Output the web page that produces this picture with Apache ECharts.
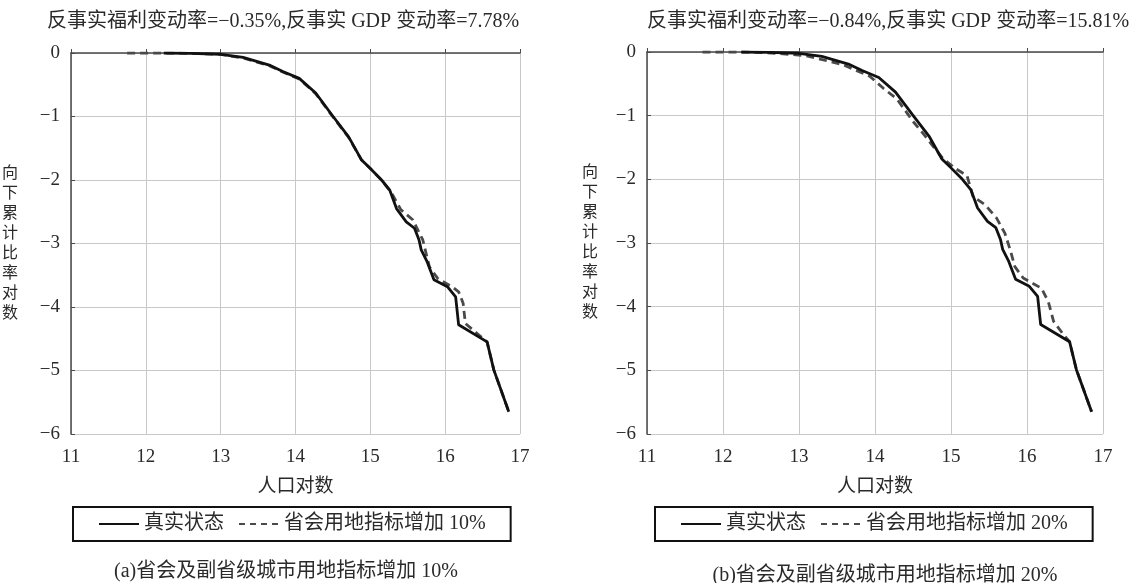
<!DOCTYPE html>
<html>
<head>
<meta charset="utf-8">
<script src="https://cdn.jsdelivr.net/npm/echarts@6/dist/echarts.min.js"></script>
<style>
html,body{margin:0;padding:0;background:#fff;}
#chart{width:1141px;height:583px;}
</style>
</head>
<body>
<div id="chart"></div>
<script>
// ---- data ----
const titleA = '反事实福利变动率=−0.35%,反事实 GDP 变动率=7.78%';
const titleB = '反事实福利变动率=−0.84%,反事实 GDP 变动率=15.81%';
const captionA = '(a)省会及副省级城市用地指标增加 10%';
const captionB = '(b)省会及副省级城市用地指标增加 20%';
const xName = '人口对数';
const yName = '向下累计比率对数';
const nameReal = '真实状态';
const nameA = '省会用地指标增加 10%';
const nameB = '省会用地指标增加 20%';
const xTicks = [11, 12, 13, 14, 15, 16, 17];
const yTicks = [0, -1, -2, -3, -4, -5, -6];

// true state (same in both panels)
const realX = [12.24, 12.6, 13.0, 13.3, 13.65, 13.83, 14.05, 14.27, 14.49, 14.71, 14.88, 15.0, 15.15, 15.26, 15.35, 15.48, 15.59, 15.65, 15.68, 15.76, 15.85, 16.03, 16.14, 16.18, 16.56, 16.65, 16.85];
const realY = [0, -0.005, -0.02, -0.07, -0.19, -0.29, -0.40, -0.63, -0.98, -1.32, -1.68, -1.82, -2.0, -2.16, -2.45, -2.66, -2.76, -2.94, -3.10, -3.29, -3.57, -3.68, -3.84, -4.28, -4.55, -4.99, -5.65];

// counterfactual +10%
const cfAX = [11.75, 12.24, 12.6, 13.0, 13.3, 13.65, 13.83, 14.05, 14.27, 14.49, 14.71, 14.88, 15.0, 15.15, 15.28, 15.41, 15.57, 15.70, 15.79, 15.90, 16.09, 16.18, 16.24, 16.27, 16.42, 16.56, 16.65, 16.85];
const cfAY = [0, 0, -0.005, -0.02, -0.08, -0.20, -0.30, -0.41, -0.64, -0.99, -1.33, -1.68, -1.82, -2.0, -2.2, -2.47, -2.63, -2.94, -3.37, -3.55, -3.68, -3.76, -3.94, -4.26, -4.41, -4.55, -4.99, -5.65];

// counterfactual +20%
const cfBX = [11.73, 12.29, 12.7, 13.10, 13.58, 13.93, 14.11, 14.29, 14.5, 14.64, 14.77, 14.90, 15.07, 15.21, 15.29, 15.45, 15.60, 15.71, 15.78, 15.84, 15.95, 16.19, 16.28, 16.35, 16.48, 16.56, 16.65, 16.85];
const cfBY = [0, 0, -0.02, -0.06, -0.20, -0.38, -0.57, -0.74, -1.09, -1.29, -1.49, -1.68, -1.84, -1.94, -2.27, -2.40, -2.61, -2.85, -3.11, -3.37, -3.55, -3.71, -3.92, -4.23, -4.44, -4.55, -4.99, -5.65];

// ---- chart ----
const zip = (xs, ys) => xs.map((x, i) => [x, ys[i]]);
const serif = '"Liberation Serif", "Noto Sans CJK SC", serif';
const txtColor = '#2a2a2a';
const fmtMinus = v => String(v).replace('-', '−');
const vName = yName.split('').join('\n');

function xAxis(gi, gap) {
  return {
    type: 'value', gridIndex: gi, min: xTicks[0], max: xTicks[xTicks.length - 1], interval: 1,
    name: xName, nameLocation: 'middle', nameGap: gap,
    nameTextStyle: {fontFamily: serif, fontSize: 19, color: txtColor},
    axisLine: {show: true, lineStyle: {color: '#4a4a4a', width: 1.5}},
    axisTick: {show: true, inside: true, length: 4, lineStyle: {color: '#4a4a4a'}},
    axisLabel: {fontFamily: serif, fontSize: 19, color: txtColor, margin: 14},
    splitLine: {show: true, lineStyle: {color: '#c8c8c8', width: 1}}
  };
}
function yAxis(gi, gap) {
  return {
    type: 'value', gridIndex: gi, min: yTicks[yTicks.length - 1], max: yTicks[0], interval: 1,
    name: vName, nameLocation: 'middle', nameGap: gap, nameRotate: 0,
    nameTextStyle: {fontFamily: serif, fontSize: 16, color: txtColor, lineHeight: 20},
    axisLine: {show: true, onZero: false, lineStyle: {color: '#4a4a4a', width: 1.5}},
    axisTick: {show: true, inside: true, length: 4, lineStyle: {color: '#4a4a4a'}},
    axisLabel: {fontFamily: serif, fontSize: 19, color: txtColor, margin: 11, formatter: fmtMinus},
    splitLine: {show: true, lineStyle: {color: '#c8c8c8', width: 1}}
  };
}
function line(name, xi, data, dashed) {
  return {
    type: 'line', name: name, xAxisIndex: xi, yAxisIndex: xi, data: data,
    symbol: 'none', silent: true, animation: false,
    lineStyle: dashed ? {color: '#4a4a4a', width: 2.8, type: [8, 5]} : {color: '#111', width: 2.8},
    itemStyle: {color: dashed ? '#4a4a4a' : '#111'}
  };
}
const legendBase = {
  orient: 'horizontal', itemWidth: 40, itemHeight: 14, itemGap: 14,
  borderColor: '#111', borderWidth: 2, borderRadius: 0,
  itemStyle: {opacity: 0},
  lineStyle: {width: 2},
  textStyle: {fontFamily: serif, fontSize: 20, color: txtColor},
  selectedMode: false
};
const textStyle = {fontFamily: serif, fontSize: 20, fontWeight: 'normal', color: txtColor};
const dashItem = name => ({name: name, lineStyle: {type: [6, 5], width: 2}});

const option = {
  backgroundColor: '#fff',
  animation: false,
  title: [
    {text: titleA, left: 278, top: 7, textAlign: 'center', textStyle: textStyle},
    {text: titleB, left: 883, top: 7, textAlign: 'center', textStyle: textStyle},
    {text: captionA, left: 281, top: 557, textAlign: 'center', textStyle: textStyle},
    {text: captionB, left: 880, top: 561, textAlign: 'center', textStyle: textStyle}
  ],
  grid: [
    {left: 66, top: 53, width: 454, height: 381},
    {left: 647, top: 52, width: 456, height: 382}
  ],
  xAxis: [xAxis(0, 44), xAxis(1, 44)],
  yAxis: [yAxis(0, 53), yAxis(1, 49)],
  legend: [
    Object.assign({}, legendBase, {data: [nameReal, dashItem(nameA)], left: 73, top: 507, padding: [7, 25]}),
    Object.assign({}, legendBase, {data: [nameReal, dashItem(nameB)], left: 655, top: 507, padding: [7, 25]})
  ],
  series: [
    line(nameA, 0, zip(cfAX, cfAY), true),
    line(nameReal, 0, zip(realX, realY), false),
    line(nameB, 1, zip(cfBX, cfBY), true),
    line(nameReal, 1, zip(realX, realY), false)
  ]
};
const chart = echarts.init(document.getElementById('chart'), null, {renderer: 'canvas'});
chart.setOption(option);
</script>
</body>
</html>
